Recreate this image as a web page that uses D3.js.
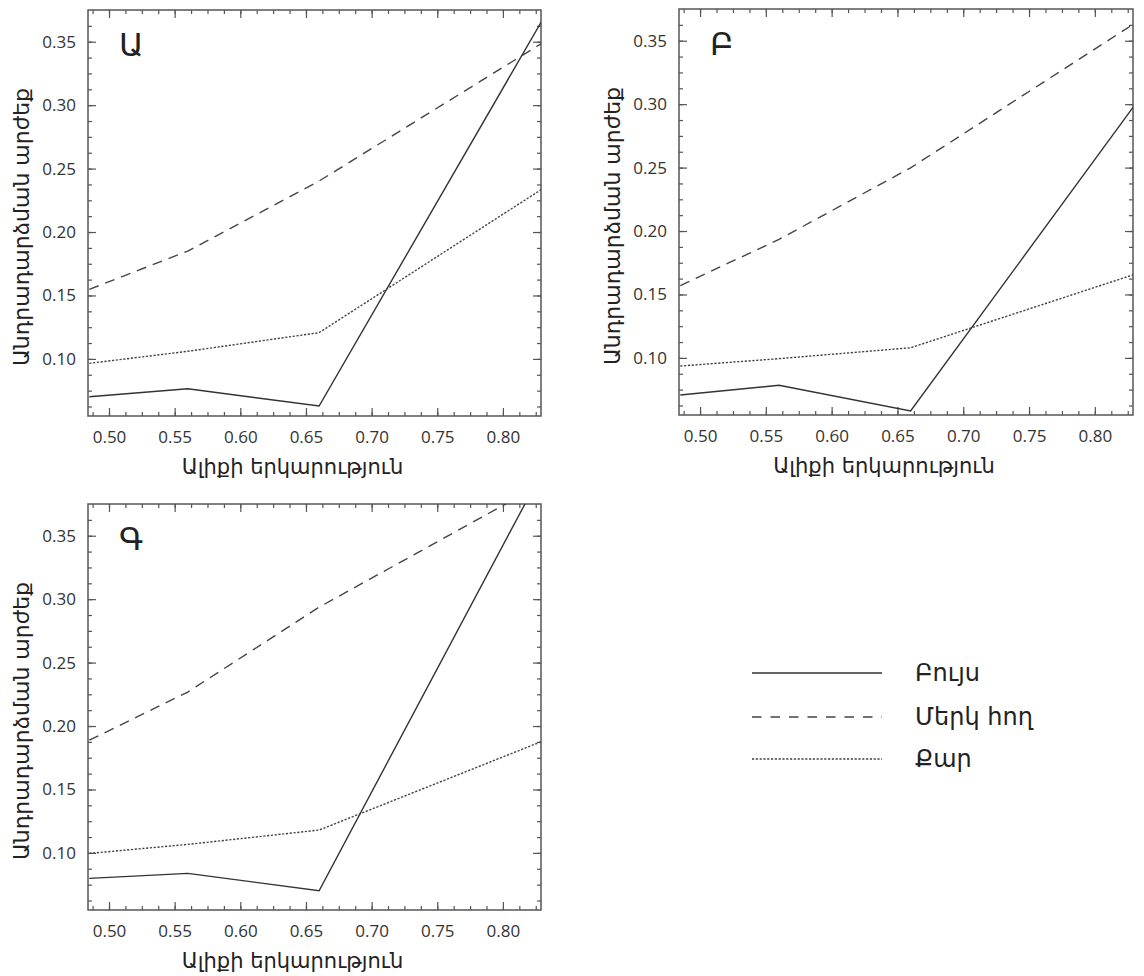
<!DOCTYPE html>
<html>
<head>
<meta charset="utf-8">
<script src="https://cdn.jsdelivr.net/npm/d3@7"></script>
<style>
  html, body { margin: 0; padding: 0; background: #fff; }
  svg { display: block; }
</style>
</head>
<body>
<svg id="chart" width="1144" height="976"></svg>
<script>
// ---- data ----
const wavelengths = [0.485, 0.56, 0.66, 0.83];
const seriesNames = ["Բույս", "Մերկ հող", "Քար"];
const panelLabels = ["Ա", "Բ", "Գ"];
const xTitle = "Ալիքի երկարություն";
const yTitle = "Անդրադարձման արժեք";
const xTickValues = [0.50, 0.55, 0.60, 0.65, 0.70, 0.75, 0.80];
const yTickValues = [0.10, 0.15, 0.20, 0.25, 0.30, 0.35];

// panel Ա
const plantA = [0.0702, 0.0765, 0.0629, 0.367];
const soilA  = [0.1548, 0.185, 0.2402, 0.349];
const stoneA = [0.0965, 0.106, 0.1207, 0.234];
// panel Բ
const plantB = [0.0708, 0.0784, 0.0582, 0.2989];
const soilB  = [0.157, 0.1934, 0.2498, 0.3635];
const stoneB = [0.0936, 0.0994, 0.108, 0.1658];
// panel Գ
const plantC = [0.0799, 0.0839, 0.0702, 0.4007];
const soilC  = [0.1888, 0.2268, 0.2937, 0.391];
const stoneC = [0.0996, 0.1067, 0.118, 0.188];

const xDomain = [0.484, 0.829];
const yDomain = [0.055, 0.375];

// ---- layout ----
const panels = [
  { label: panelLabels[0], series: [plantA, soilA, stoneA], x0: 88,  x1: 541,  y0: 10,  y1: 416 },
  { label: panelLabels[1], series: [plantB, soilB, stoneB], x0: 679, x1: 1133, y0: 9,   y1: 415 },
  { label: panelLabels[2], series: [plantC, soilC, stoneC], x0: 88,  x1: 541,  y0: 504, y1: 910 }
];

const styles = [
  { stroke: "#333", width: 1.4, dash: null,      legendDash: null },
  { stroke: "#444", width: 1.4, dash: "10,7",    legendDash: "9.5,9" },
  { stroke: "#444", width: 1.4, dash: "2.2,1.6", legendDash: "2.2,1.6" }
];

const svg = d3.select("#chart");
const fontFam = '"Open Sans", "DejaVu Sans", sans-serif';
const armFont = '"DejaVu Sans", sans-serif';

const minorX = d3.range(39, 67).map(k => k * 0.0125).filter(v => v > xDomain[0] + 1e-6 && v < xDomain[1] - 1e-6);
const minorY = d3.range(4, 31).map(k => k * 0.0125).filter(v => v > yDomain[0] + 1e-6 && v < yDomain[1] - 1e-6);

panels.forEach((p, pi) => {
  const x = d3.scaleLinear().domain(xDomain).range([p.x0, p.x1]);
  const y = d3.scaleLinear().domain(yDomain).range([p.y1, p.y0]);
  const g = svg.append("g");

  const clipId = "clip" + pi;
  svg.append("defs").append("clipPath").attr("id", clipId)
    .append("rect").attr("x", p.x0).attr("y", p.y0)
    .attr("width", p.x1 - p.x0).attr("height", p.y1 - p.y0);

  const addAxis = (axis, tx, ty) => {
    const a = g.append("g").attr("transform", `translate(${tx},${ty})`).call(axis);
    a.select(".domain").remove();
    a.selectAll(".tick line").attr("stroke", "#555").attr("stroke-width", 1.2);
    return a;
  };
  const fmt = d3.format(".2f");
  // bottom
  addAxis(d3.axisBottom(x).tickValues(minorX).tickSize(-4).tickFormat(""), 0, p.y1);
  const bx = addAxis(d3.axisBottom(x).tickValues(xTickValues).tickSize(-8).tickFormat(fmt), 0, p.y1);
  bx.selectAll(".tick text").attr("font-size", 17).attr("fill", "#333").attr("font-family", fontFam).attr("dy", "0").attr("y", 27);
  // top
  addAxis(d3.axisTop(x).tickValues(minorX).tickSize(-4).tickFormat(""), 0, p.y0);
  addAxis(d3.axisTop(x).tickValues(xTickValues).tickSize(-8).tickFormat(""), 0, p.y0);
  // left
  addAxis(d3.axisLeft(y).tickValues(minorY).tickSize(-4).tickFormat(""), p.x0, 0);
  const ly = addAxis(d3.axisLeft(y).tickValues(yTickValues).tickSize(-8).tickFormat(fmt), p.x0, 0);
  ly.selectAll(".tick text").attr("font-size", 17).attr("fill", "#333").attr("font-family", fontFam).attr("x", -12);
  // right
  addAxis(d3.axisRight(y).tickValues(minorY).tickSize(-4).tickFormat(""), p.x1, 0);
  addAxis(d3.axisRight(y).tickValues(yTickValues).tickSize(-8).tickFormat(""), p.x1, 0);

  // frame
  g.append("rect").attr("x", p.x0).attr("y", p.y0)
    .attr("width", p.x1 - p.x0).attr("height", p.y1 - p.y0)
    .attr("fill", "none").attr("stroke", "#555").attr("stroke-width", 1.5);

  // lines
  const line = d3.line().x((d, i) => x(wavelengths[i])).y(d => y(d));
  p.series.forEach((vals, si) => {
    const s = styles[si];
    g.append("path").datum(vals)
      .attr("clip-path", `url(#${clipId})`)
      .attr("d", line)
      .attr("fill", "none")
      .attr("stroke", s.stroke)
      .attr("stroke-width", s.width)
      .attr("stroke-dasharray", s.dash);
  });

  // panel letter
  g.append("text").attr("x", p.x0 + 31).attr("y", p.y0 + 46)
    .attr("font-family", armFont).attr("font-size", 32).attr("fill", "#222")
    .text(p.label);

  // axis titles
  g.append("text")
    .attr("x", (p.x0 + p.x1) / 2 - 22).attr("y", p.y1 + 58)
    .attr("text-anchor", "middle")
    .attr("font-family", armFont).attr("font-size", 21).attr("fill", "#222")
    .text(xTitle);
  const cy = (p.y0 + p.y1) / 2 + 14;
  g.append("text")
    .attr("transform", `translate(${p.x0 - 59},${cy}) rotate(-90)`)
    .attr("text-anchor", "middle")
    .attr("font-family", armFont).attr("font-size", 22).attr("fill", "#222")
    .text(yTitle);
});

// legend
const legendY = [673, 717, 759];
const legend = svg.append("g");
seriesNames.forEach((name, i) => {
  const s = styles[i];
  legend.append("line")
    .attr("x1", 752).attr("x2", 882)
    .attr("y1", legendY[i]).attr("y2", legendY[i])
    .attr("stroke", s.stroke).attr("stroke-width", s.width)
    .attr("stroke-dasharray", s.legendDash);
  legend.append("text")
    .attr("x", 915).attr("y", legendY[i] + 8)
    .attr("font-family", armFont).attr("font-size", 24).attr("fill", "#222")
    .text(name);
});
</script>
</body>
</html>
